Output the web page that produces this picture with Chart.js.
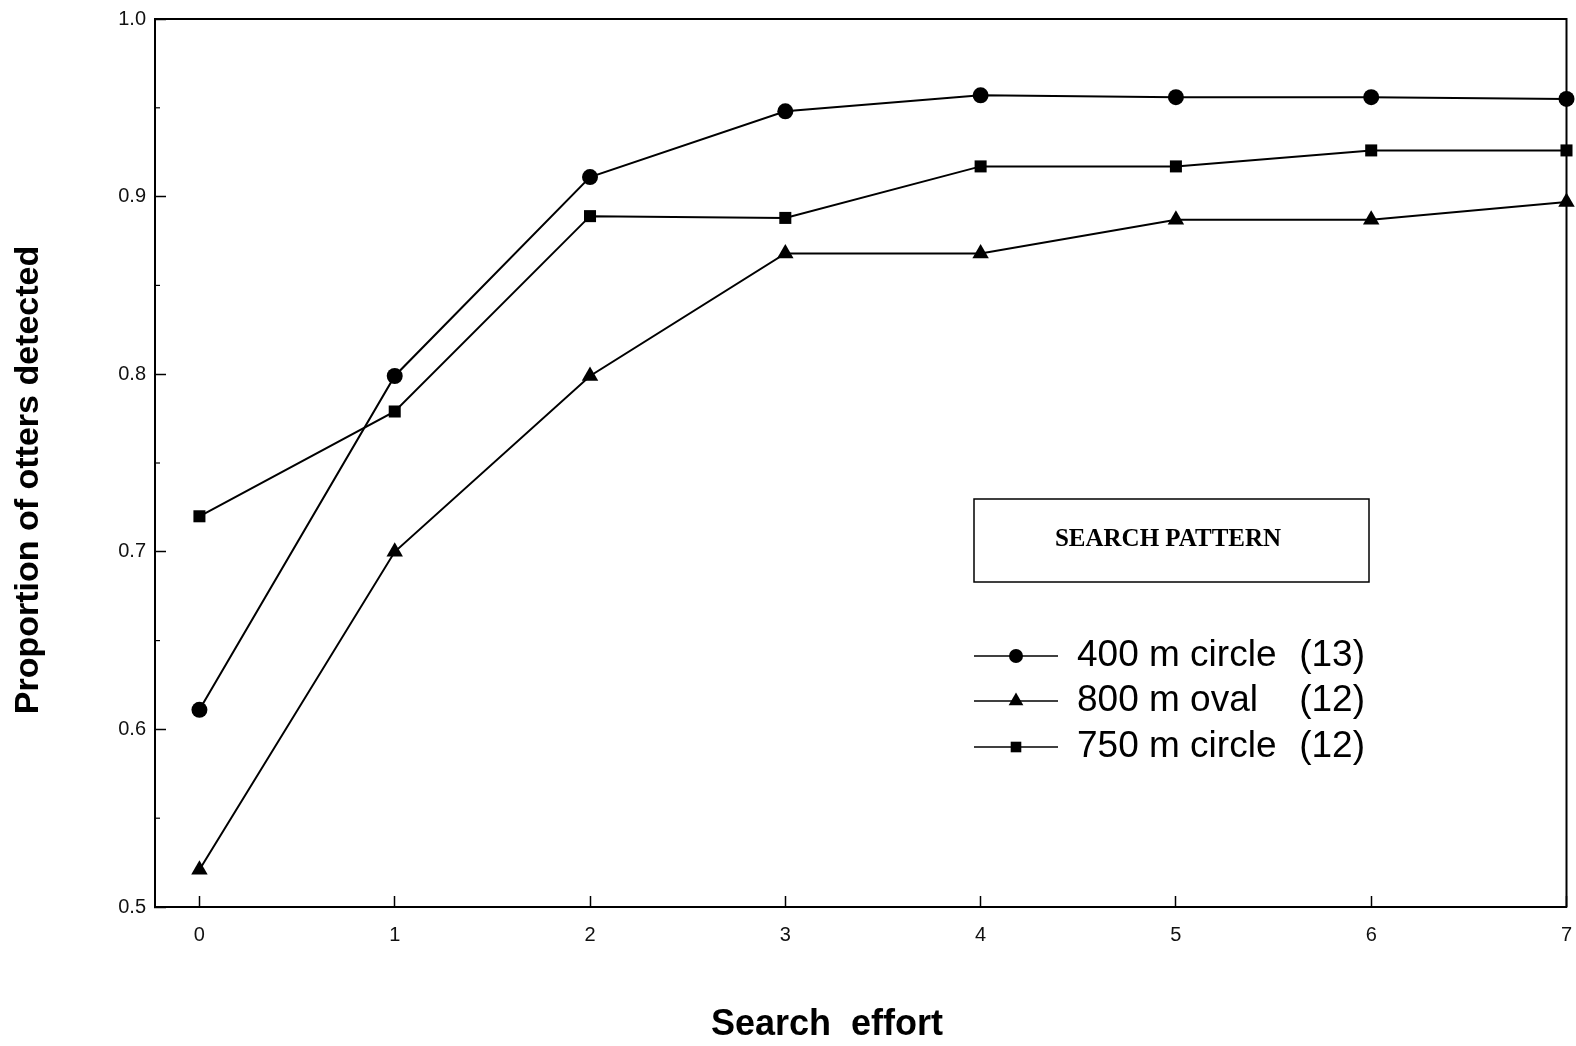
<!DOCTYPE html>
<html lang="en">
<head>
  <meta charset="UTF-8">
  <title>Proportion of otters detected</title>
  <script src="https://cdn.jsdelivr.net/npm/chart.js@4.4.1/dist/chart.umd.min.js"></script>
  <style>
    body { margin: 0; padding: 0; background: #fff; overflow: hidden; }
    canvas { display: block; }
  </style>
</head>
<body>
  <canvas id="chart" width="1576" height="1046"></canvas>

  <script>
    // search effort steps
    const effort = [0, 1, 2, 3, 4, 5, 6, 7];
    const circle400 = [0.611, 0.799, 0.911, 0.948, 0.957, 0.956, 0.956, 0.955];
    const oval800 = [0.521, 0.700, 0.799, 0.868, 0.868, 0.887, 0.887, 0.897];
    const circle750 = [0.720, 0.779, 0.889, 0.888, 0.917, 0.917, 0.926, 0.926];

    const seriesNames = ["400 m circle", "800 m oval", "750 m circle"];
    const seriesCounts = ["(13)", "(12)", "(12)"];
    const pointStyles = ["circle", "triangle", "rect"];
    const pointSizes = [8, 9.5, 8.5];

    const xTicks = [0, 1, 2, 3, 4, 5, 6, 7];
    const yMinor = [0.55, 0.65, 0.75, 0.85, 0.95];

    function toPoints(ys) {
      return ys.map((v, i) => ({ x: effort[i], y: v }));
    }

    // no extra room for overflowing tick labels, layout padding decides it
    function noScalePadding(s) {
      s.paddingLeft = 0;
      s.paddingRight = 0;
      s.paddingTop = 0;
      s.paddingBottom = 0;
    }

    const allSeries = [circle400, oval800, circle750];
    const datasets = allSeries.map((ys, i) => ({
      label: seriesNames[i],
      data: toPoints(ys),
      borderColor: "#000",
      backgroundColor: "#000",
      borderWidth: 2,
      pointStyle: pointStyles[i],
      pointRadius: pointSizes[i],
      pointBorderWidth: 0,
      pointBackgroundColor: "#000",
      tension: 0,
      clip: false
    }));

    // frame, minor ticks, axis titles and the legend box
    const decorations = {
      id: "decorations",
      afterDraw(chart) {
        const ctx = chart.ctx;
        const a = chart.chartArea;
        const ys = chart.scales.y;
        ctx.save();
        ctx.strokeStyle = "#000";
        ctx.lineWidth = 2;
        ctx.beginPath();
        ctx.moveTo(a.left, a.top);
        ctx.lineTo(a.right, a.top);
        ctx.lineTo(a.right, a.bottom);
        ctx.stroke();

        ctx.lineWidth = 1.2;
        yMinor.forEach(v => {
          const py = ys.getPixelForValue(v);
          ctx.beginPath();
          ctx.moveTo(a.left, py);
          ctx.lineTo(a.left + 5, py);
          ctx.stroke();
        });

        // axis titles
        ctx.fillStyle = "#000";
        ctx.textAlign = "center";
        ctx.textBaseline = "middle";
        ctx.font = "bold 36px 'Liberation Sans', Arial, sans-serif";
        ctx.fillText("Search  effort", 827, 1025);
        ctx.save();
        ctx.translate(29, 480);
        ctx.rotate(-Math.PI / 2);
        ctx.font = "bold 34px 'Liberation Sans', Arial, sans-serif";
        ctx.fillText("Proportion of otters detected", 0, 0);
        ctx.restore();

        // legend header box
        ctx.lineWidth = 1.5;
        ctx.strokeRect(974, 499, 395, 83);
        ctx.font = "bold 25px 'Liberation Serif', 'Times New Roman', serif";
        ctx.fillText("SEARCH PATTERN", 1168, 540);

        // legend entries
        const rowY = [656, 701, 747];
        seriesNames.forEach((name, i) => {
          const y = rowY[i];
          ctx.lineWidth = 1.5;
          ctx.beginPath();
          ctx.moveTo(974, y);
          ctx.lineTo(1058, y);
          ctx.stroke();
          Chart.helpers.drawPoint(ctx, {
            pointStyle: pointStyles[i],
            radius: pointSizes[i] - 1,
            rotation: 0,
            borderWidth: 0
          }, 1016, y);
          ctx.fillStyle = "#000";
          ctx.font = "37px 'Liberation Sans', Arial, sans-serif";
          ctx.textAlign = "left";
          ctx.fillText(name, 1077, y);
          ctx.textAlign = "right";
          ctx.fillText(seriesCounts[i], 1365, y);
        });
        ctx.restore();
      }
    };

    const chart = new Chart(document.getElementById("chart"), {
      type: "line",
      data: { datasets: datasets },
      options: {
        responsive: false,
        animation: false,
        events: [],
        layout: { padding: { left: 0, right: 7, top: 19, bottom: 0 } },
        plugins: {
          legend: { display: false },
          tooltip: { enabled: false }
        },
        scales: {
          x: {
            type: "linear",
            min: -0.2275,
            max: 7,
            afterBuildTicks: s => { s.ticks = xTicks.map(v => ({ value: v })); },
            afterFit: s => { s.height = 139; noScalePadding(s); },
            grid: {
              drawOnChartArea: false,
              drawTicks: true,
              tickLength: -11,
              tickColor: "#000",
              tickWidth: 1.5
            },
            border: { display: true, color: "#000", width: 2 },
            ticks: {
              padding: 27,
              color: "#111",
              font: { family: "'Liberation Sans', Arial, sans-serif", size: 20 },
              callback: v => String(v)
            }
          },
          y: {
            type: "linear",
            min: 0.5,
            max: 1.0,
            afterFit: s => { s.width = 155; noScalePadding(s); },
            grid: {
              drawOnChartArea: false,
              drawTicks: true,
              tickLength: -11,
              tickColor: "#000",
              tickWidth: 1.5
            },
            border: { display: true, color: "#000", width: 2 },
            ticks: {
              stepSize: 0.1,
              padding: 20,
              color: "#111",
              font: { family: "'Liberation Sans', Arial, sans-serif", size: 20 },
              callback: v => Number(v).toFixed(1)
            }
          }
        }
      },
      plugins: [decorations]
    });
  </script>
</body>
</html>
